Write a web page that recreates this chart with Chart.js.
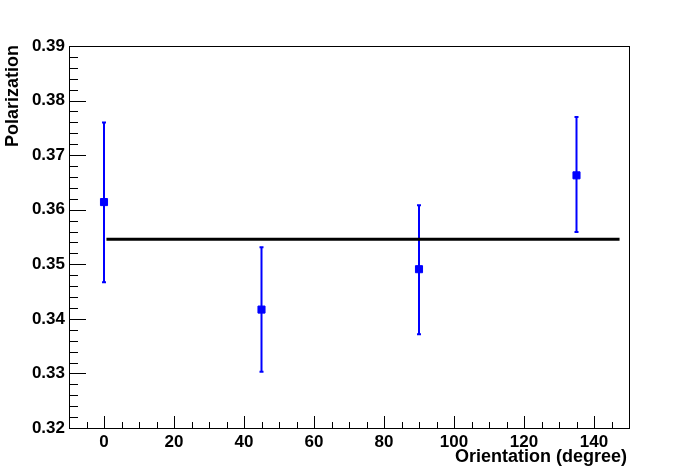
<!DOCTYPE html>
<html>
<head>
<meta charset="utf-8">
<script src="https://cdn.jsdelivr.net/npm/chart.js@4.4.1/dist/chart.umd.min.js"></script>
<style>
  html, body { margin: 0; padding: 0; background: #fff; }
  canvas { display: block; }
</style>
</head>
<body>
<canvas id="polChart" width="698" height="476"></canvas>
<script>
// orientation of each measurement (degree)
const orientations = [0, 45, 90, 135];
const polValues = [0.3614, 0.3417, 0.3491, 0.3663];
const errLow = [0.3467, 0.3303, 0.3372, 0.3559];
const errHigh = [0.3760, 0.3531, 0.3608, 0.3770];

// constant fit
const fitX = [0.7, 147.3];
const fitValue = 0.3546;

const xTicks = [0, 20, 40, 60, 80, 100, 120, 140];
const yTicks = [0.32, 0.33, 0.34, 0.35, 0.36, 0.37, 0.38, 0.39];

const FONT = "'Liberation Sans', Arial, Helvetica, sans-serif";

const rootAxes = {
    id: 'rootAxes',
    beforeDatasetsDraw(chart) {
        const ctx = chart.ctx;
        const a = chart.chartArea;
        const xs = chart.scales.x;
        const ys = chart.scales.y;
        ctx.save();

        // error bars
        ctx.strokeStyle = '#0000ff';
        ctx.lineWidth = 2;
        orientations.forEach((o, i) => {
            const px = xs.getPixelForValue(o);
            const top = ys.getPixelForValue(errHigh[i]);
            const bot = ys.getPixelForValue(errLow[i]);
            ctx.beginPath();
            ctx.moveTo(px, top);
            ctx.lineTo(px, bot);
            ctx.moveTo(px - 2, top);
            ctx.lineTo(px + 2, top);
            ctx.moveTo(px - 2, bot);
            ctx.lineTo(px + 2, bot);
            ctx.stroke();
        });

        // frame
        ctx.strokeStyle = '#000';
        ctx.lineWidth = 1;
        ctx.strokeRect(Math.round(a.left) + 0.5, Math.round(a.top) + 0.5,
            Math.round(a.right - a.left), Math.round(a.bottom - a.top));

        // inward ticks
        ctx.beginPath();
        for (let v = -5; v <= 150; v += 5) {
            const px = Math.round(xs.getPixelForValue(v)) + 0.5;
            const len = (v % 20 === 0) ? 12 : 6;
            ctx.moveTo(px, a.bottom);
            ctx.lineTo(px, a.bottom - len);
        }
        for (let k = 0; k <= 35; k++) {
            const v = 0.32 + k * 0.002;
            const py = Math.round(ys.getPixelForValue(v)) + 0.5;
            const len = (k % 5 === 0) ? 17 : 9;
            ctx.moveTo(a.left, py);
            ctx.lineTo(a.left + len, py);
        }
        ctx.stroke();
        ctx.restore();
    },
    afterDraw(chart) {
        const ctx = chart.ctx;
        const a = chart.chartArea;
        ctx.save();
        ctx.fillStyle = '#000';
        ctx.font = 'bold 18px ' + FONT;
        ctx.textBaseline = 'middle';
        ctx.textAlign = 'right';
        ctx.fillText('Orientation (degree)', a.right - 2, 457);
        ctx.translate(13, a.top - 1);
        ctx.rotate(-Math.PI / 2);
        ctx.fillText('Polarization', 0, 0);
        ctx.restore();
    }
};

new Chart(document.getElementById('polChart'), {
    data: {
        datasets: [
            {
                type: 'scatter',
                label: 'Polarization',
                data: orientations.map((o, i) => ({ x: o, y: polValues[i] })),
                pointStyle: 'rect',
                pointRadius: 5,
                pointBackgroundColor: '#0000ff',
                pointBorderColor: '#0000ff',
                pointBorderWidth: 1,
                order: 1
            },
            {
                type: 'line',
                label: 'Fit',
                data: fitX.map(x => ({ x: x, y: fitValue })),
                borderColor: '#000',
                borderWidth: 3,
                pointRadius: 0,
                fill: false,
                order: 0
            }
        ]
    },
    options: {
        responsive: false,
        animation: false,
        events: [],
        layout: { padding: { top: 46, right: 69, left: 0, bottom: 0 } },
        plugins: {
            legend: { display: false },
            tooltip: { enabled: false }
        },
        scales: {
            x: {
                type: 'linear',
                min: -10,
                max: 150,
                afterBuildTicks: scale => { scale.ticks = xTicks.map(v => ({ value: v })); },
                afterFit: scale => { scale.height = 48; },
                grid: { display: false, drawTicks: false },
                border: { display: false },
                ticks: {
                    color: '#000',
                    padding: 4,
                    maxRotation: 0,
                    autoSkip: false,
                    font: { family: FONT, size: 17, weight: 'bold' }
                }
            },
            y: {
                type: 'linear',
                min: 0.32,
                max: 0.39,
                afterBuildTicks: scale => { scale.ticks = yTicks.map(v => ({ value: v })); },
                afterFit: scale => { scale.width = 69; },
                grid: { display: false, drawTicks: false },
                border: { display: false },
                ticks: {
                    color: '#000',
                    padding: 4,
                    autoSkip: false,
                    font: { family: FONT, size: 17, weight: 'bold' },
                    callback: v => v.toFixed(2)
                }
            }
        }
    },
    plugins: [rootAxes]
});
</script>
</body>
</html>
